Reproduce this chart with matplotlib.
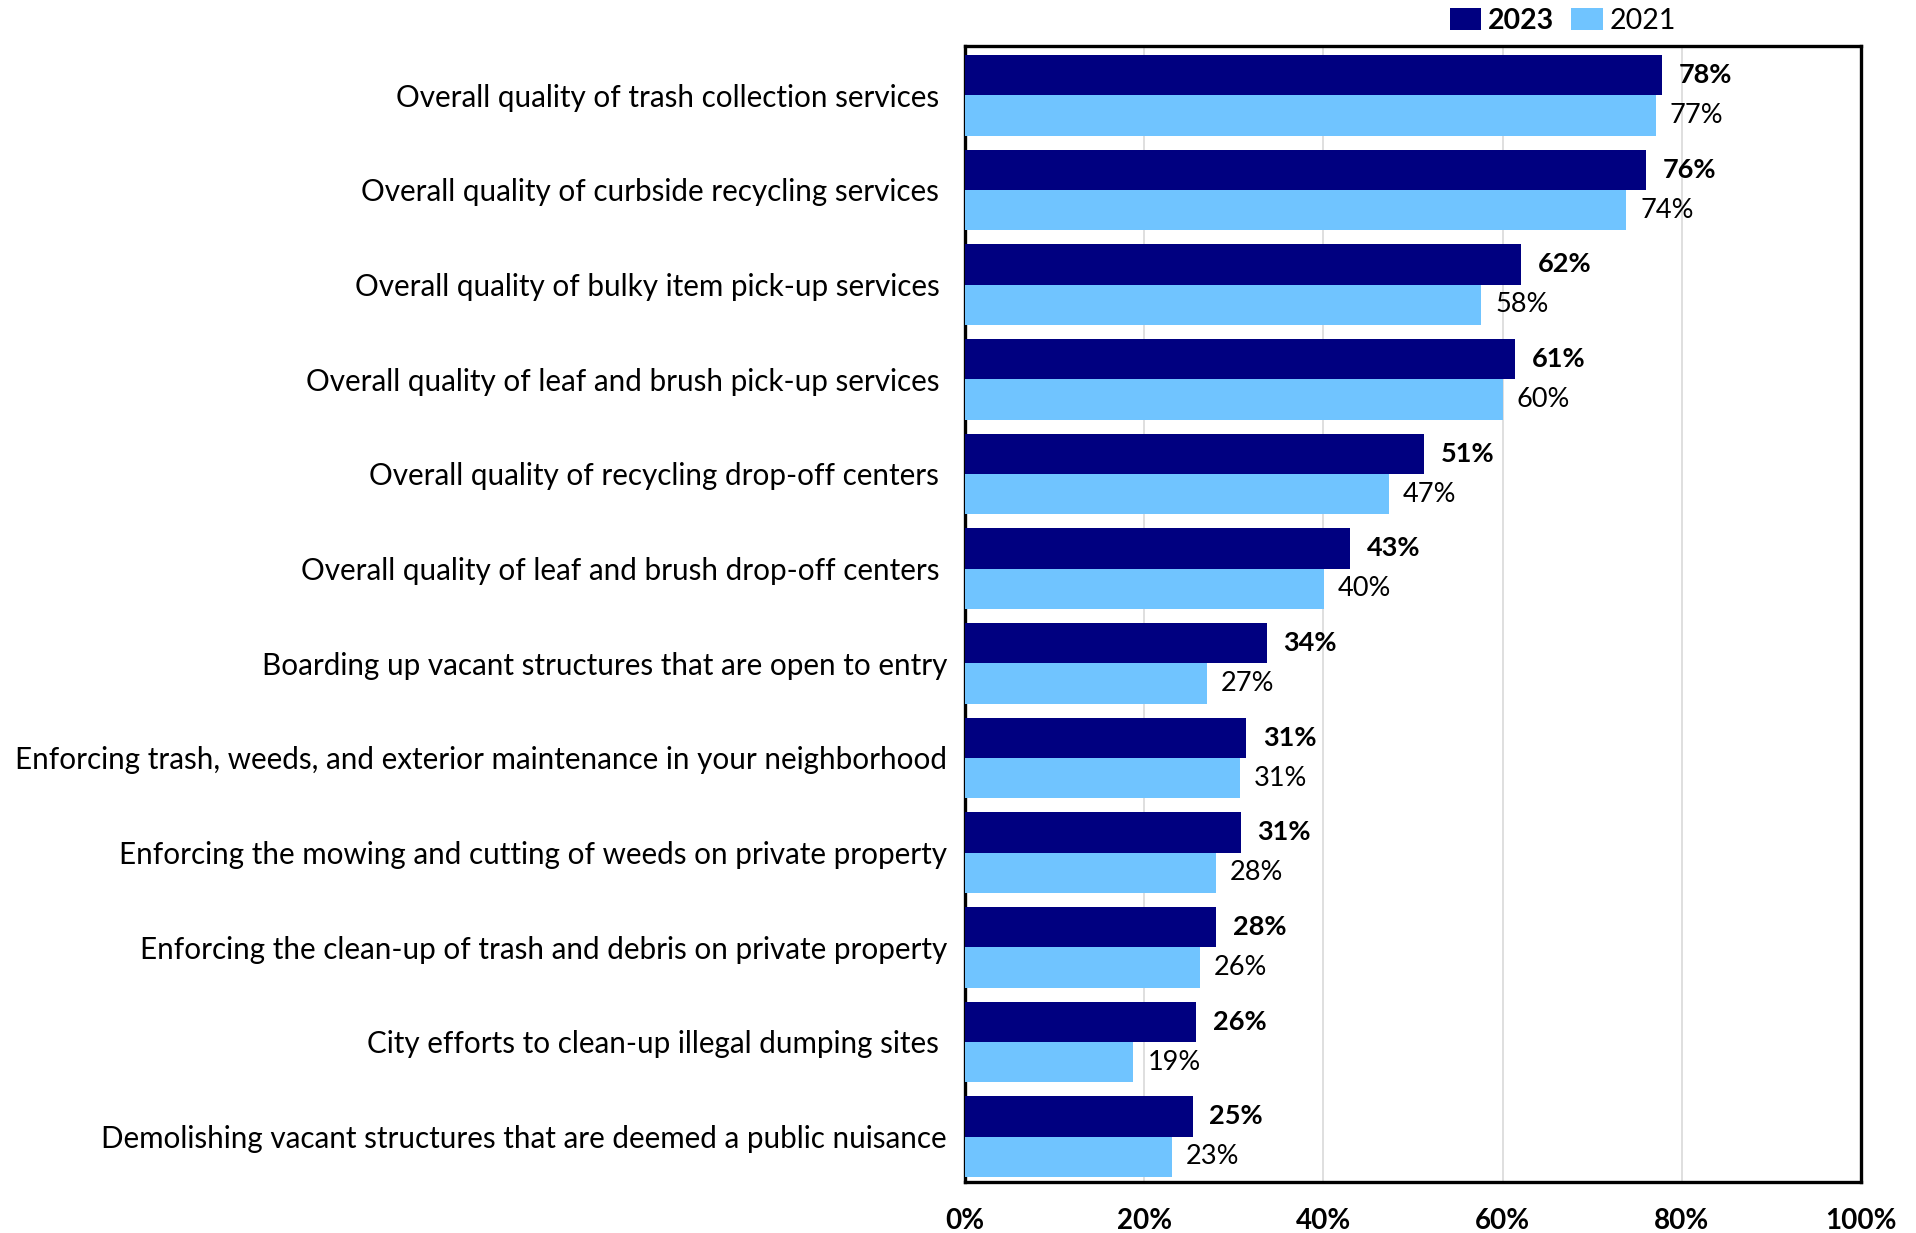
import matplotlib
matplotlib.use("Agg")
import matplotlib.pyplot as plt
from matplotlib.patches import Patch
import numpy as np

plt.rcParams['font.family'] = ['Lato', 'DejaVu Sans']

categories = [
    "Overall quality of trash collection services ",
    "Overall quality of curbside recycling services ",
    "Overall quality of bulky item pick-up services ",
    "Overall quality of leaf and brush pick-up services ",
    "Overall quality of recycling drop-off centers ",
    "Overall quality of leaf and brush drop-off centers ",
    "Boarding up vacant structures that are open to entry",
    "Enforcing trash, weeds, and exterior maintenance in your neighborhood",
    "Enforcing the mowing and cutting of weeds on private property",
    "Enforcing the clean-up of trash and debris on private property",
    "City efforts to clean-up illegal dumping sites ",
    "Demolishing vacant structures that are deemed a public nuisance",
]
values_2023 = [77.8, 76.0, 62.1, 61.4, 51.2, 43.0, 33.7, 31.4, 30.8, 28.0, 25.8, 25.4]
values_2021 = [77.1, 73.8, 57.6, 60.0, 47.3, 40.1, 27.0, 30.7, 28.0, 26.2, 18.8, 23.1]
series_names = ["2023", "2021"]
x_ticks = [0, 20, 40, 60, 80, 100]

color_2023 = "#000080"
color_2021 = "#70C4FF"

W, H = 1916, 1233
fig = plt.figure(figsize=(W / 100, H / 100), dpi=100)
left, right, top, bottom = 965, 1861, 46, 1182
ax = fig.add_axes([left / W, 1 - bottom / H, (right - left) / W, (bottom - top) / H])

y = np.arange(len(categories))
h = 0.426
ax.barh(y - h / 2, values_2023, height=h, color=color_2023, zorder=3)
ax.barh(y + h / 2, values_2021, height=h, color=color_2021, zorder=3)

for v, yy in zip(values_2023, y - h / 2):
    ax.annotate(f"{v:.0f}%", (v, yy), xytext=(12, 0), textcoords="offset points",
                va="center", ha="left", fontsize=19.5, fontweight="bold", color="black")
for v, yy in zip(values_2021, y + h / 2):
    ax.annotate(f"{v:.0f}%", (v, yy), xytext=(10, 0), textcoords="offset points",
                va="center", ha="left", fontsize=19.5, color="black")

ax.set_xlim(0, 100)
ax.set_ylim(len(categories) - 0.5 - 0.02, -0.5 - 0.02)
ax.set_xticks(x_ticks)
ax.set_xticklabels([f"{t}%" for t in x_ticks], fontsize=20, fontweight="bold")
ax.set_yticks(y)
ax.set_yticklabels(categories, fontsize=21.3)
ax.tick_params(axis="x", length=0, pad=19)
ax.tick_params(axis="y", length=0, pad=13)

ax.grid(axis="x", color="#D9D9D9", linewidth=1.2, zorder=0)
ax.set_axisbelow(True)
for s in ax.spines.values():
    s.set_linewidth(2.4)
    s.set_color("black")

handles = [Patch(facecolor=color_2023), Patch(facecolor=color_2021)]
leg = fig.legend(handles, series_names, loc="center", bbox_to_anchor=(1563 / W, 1 - 21 / H),
                 ncol=2, frameon=False, fontsize=20.5, handlelength=1.1, handleheight=0.8,
                 handletextpad=0.25, columnspacing=0.6)
leg.get_texts()[0].set_fontweight("bold")

fig.savefig("out.png", dpi=100, facecolor="white")
